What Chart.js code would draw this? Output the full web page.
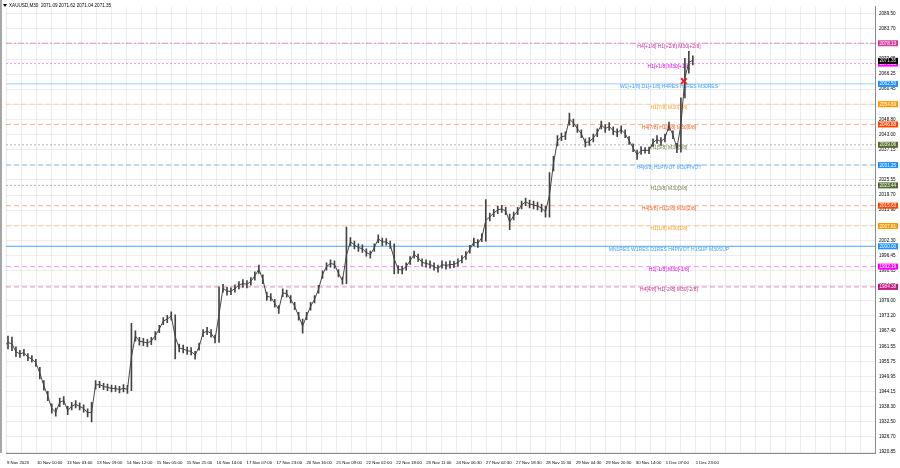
<!DOCTYPE html>
<html>
<head>
<meta charset="utf-8">
<script src="https://cdn.jsdelivr.net/npm/chart.js@4.4.0/dist/chart.umd.min.js"></script>
<style>
html, body { margin: 0; padding: 0; background: #fff; }
#wrap { width: 900px; height: 468px; position: relative; }
</style>
</head>
<body>
<div id="wrap"><canvas id="chart"></canvas></div>
<script>
// XAUUSD M30, one sample every ~4 bars, low / high
const lows = [1958.9,1960.5,1959.8,1957.5,1957.2,1957.8,1956.0,1955.4,1953.8,1949.0,
  1944.6,1940.6,1935.8,1934.6,1938.3,1939.2,1935.2,1937.0,1937.8,1937.0,
  1936.2,1934.4,1932.4,1945.0,1945.6,1944.8,1944.5,1944.0,1944.2,1943.6,
  1944.0,1943.4,1944.5,1963.5,1962.0,1961.8,1961.4,1962.2,1964.0,1966.8,
  1969.8,1970.6,1971.6,1956.7,1959.4,1959.0,1958.4,1958.2,1956.6,1960.0,
  1965.2,1966.0,1965.0,1962.8,1963.0,1982.4,1981.2,1981.4,1982.4,1983.6,
  1984.2,1984.0,1985.0,1987.0,1989.6,1985.6,1979.2,1979.0,1976.6,1974.2,
  1980.6,1980.4,1978.2,1975.6,1971.6,1966.6,1971.8,1975.4,1978.2,1982.0,
  1987.6,1990.8,1992.0,1991.6,1988.2,1985.4,1985.6,2000.2,1999.0,1998.0,
  1997.6,1996.2,1995.4,1998.0,2001.4,2000.2,2000.4,1999.2,1989.4,1989.6,
  1989.4,1990.8,1993.0,1995.4,1994.2,1992.4,1992.0,1991.6,1990.8,1990.0,
  1991.6,1991.2,1991.6,1991.8,1992.4,1993.6,1995.0,1997.4,2000.2,1999.6,
  2001.8,2002.0,2009.8,2011.4,2012.6,2013.0,2012.2,2006.4,2010.2,2012.2,
  2014.4,2015.6,2014.8,2014.4,2014.0,2013.2,2011.2,2011.2,2029.0,2038.6,
  2040.6,2041.0,2046.6,2046.0,2043.8,2041.8,2038.2,2038.8,2040.2,2042.2,
  2045.2,2043.8,2044.6,2043.0,2042.2,2043.4,2041.8,2039.2,2036.4,2033.4,
  2035.4,2035.8,2035.6,2038.4,2039.6,2038.8,2040.2,2044.6,2041.4,2036.0,
  2036.2,2057.1,2066.6,2069.8];
const highs = [1964.3,1965.5,1965.1,1961.3,1960.0,1960.4,1958.7,1958.0,1956.5,1953.4,
  1948.3,1944.2,1939.4,1937.8,1941.6,1942.2,1938.4,1940.0,1940.6,1939.8,
  1939.0,1937.5,1940.0,1948.3,1948.0,1947.3,1947.0,1946.6,1946.4,1946.1,
  1946.8,1946.5,1970.4,1967.5,1965.0,1964.6,1964.2,1965.0,1967.2,1969.6,
  1972.6,1973.4,1974.8,1973.6,1962.4,1962.0,1961.2,1961.0,1959.6,1962.8,
  1968.0,1968.8,1968.0,1965.8,1984.4,1985.4,1984.2,1984.0,1985.2,1986.4,
  1987.2,1986.8,1988.0,1990.2,1992.8,1989.0,1982.4,1981.8,1979.6,1977.2,
  1983.6,1983.2,1981.0,1978.4,1974.6,1972.0,1974.6,1978.4,1981.0,1985.0,
  1990.6,1993.6,1994.8,1994.4,1991.0,1988.2,2007.4,2003.4,2002.0,2001.0,
  2000.6,1999.0,1998.2,2001.0,2004.4,2003.2,2003.0,2002.0,2001.0,1992.6,
  1992.4,1993.6,1996.0,1998.2,1997.0,1995.2,1994.8,1994.4,1993.6,1992.8,
  1994.4,1994.0,1994.4,1994.2,1995.2,1996.4,1998.0,2000.4,2003.2,2002.6,
  2004.8,2018.0,2012.8,2014.2,2015.4,2015.8,2015.0,2012.4,2013.2,2015.0,
  2017.4,2018.6,2017.8,2017.4,2017.0,2016.2,2015.4,2028.4,2034.6,2042.6,
  2043.6,2044.0,2051.3,2049.0,2046.8,2044.8,2041.4,2041.8,2043.2,2045.2,
  2048.2,2046.8,2047.6,2046.0,2045.2,2046.4,2044.8,2042.2,2039.4,2037.0,
  2038.4,2038.0,2038.2,2041.4,2042.6,2041.8,2043.2,2047.8,2044.4,2039.6,
  2057.1,2072.3,2075.0,2073.3];

const lastQuote = [2071.09, 2071.62, 2071.04, 2071.35];

const levelPrices = [2078.13, 2070.31, 2062.50, 2054.69, 2046.88, 2039.06, 2031.25,
  2023.44, 2015.63, 2007.81, 2000.00, 1992.19, 1984.38];
const levelNames = ['H4[+1/8] H1[+2/8] M30[+2/8]', 'H1[+1/8] M30[+1/8]',
  'W1[+1/8] D1[+1/8] H4RES H1RES M30RES', 'H1[7/8] M30[7/8]', 'H4[7/8] H1[6/8] M30[6/8]',
  'H1[5/8] M30[5/8]', 'H4[6/8] H1PIVOT M30PIVOT', 'H1[3/8] M30[3/8]',
  'H4[5/8] H1[2/8] M30[2/8]', 'H1[1/8] M30[1/8]', 'MN1RES W1RES D1RES H4PIVOT H1SUP M30SUP',
  'H1[-1/8] M30[-1/8]', 'H4[4/8] H1[-2/8] M30[-2/8]'];

const signalIndex = 170.75;
const signalPrice = 2063.6;

const yTicks = [2089.50, 2083.70, 2077.85, 2072.05, 2066.25, 2060.45, 2054.60, 2048.80,
  2043.00, 2037.15, 2031.35, 2025.55, 2019.70, 2013.90, 2008.10, 2002.30, 1996.45,
  1990.65, 1984.85, 1979.00, 1973.20, 1967.40, 1961.55, 1955.75, 1949.95, 1944.15,
  1938.30, 1932.50, 1926.70, 1920.85];
const xLabels = ['9 Nov 2023', '10 Nov 10:00', '13 Nov 03:00', '13 Nov 19:00', '14 Nov 12:00',
  '15 Nov 05:00', '15 Nov 21:00', '16 Nov 14:00', '17 Nov 07:00', '17 Nov 23:00',
  '20 Nov 16:00', '21 Nov 09:00', '22 Nov 02:00', '22 Nov 18:00', '23 Nov 11:00',
  '24 Nov 06:30', '27 Nov 02:30', '27 Nov 18:30', '28 Nov 11:30', '29 Nov 04:30',
  '29 Nov 20:30', '30 Nov 14:00', '1 Dec 07:00', '1 Dec 23:00'];

// styles
const lineColors = ['rgba(214,70,170,0.6)', 'rgba(255,0,255,0.45)', 'rgba(30,144,255,0.45)',
  'rgba(255,153,0,0.35)', 'rgba(255,69,0,0.45)', 'rgba(85,107,47,0.45)', 'rgba(30,144,255,0.5)',
  'rgba(85,107,47,0.45)', 'rgba(255,69,0,0.45)', 'rgba(255,153,0,0.4)', 'rgba(30,144,255,0.8)',
  'rgba(255,0,255,0.45)', 'rgba(214,40,140,0.55)'];
const lineDashes = [[6, 2, 2, 2], [2, 2], [], [5, 3], [5, 3], [2, 2], [5, 3], [2, 2], [5, 3],
  [5, 3], [], [5, 3], [5, 3]];
const textColors = ['#cc2f9a', '#ee00ee', '#3d9bff', '#ff9a1a', '#ff5a1a', '#6b7f45', '#3d9bff',
  '#6b7f45', '#ff5a1a', '#ff9a1a', '#3d9bff', '#ee00ee', '#cc2f8a'];
const boxColors = ['#d63fa0', '#ff00ff', '#1e90ff', '#ff9900', '#ff4500', '#556b2f', '#1e90ff',
  '#556b2f', '#ff4500', '#ff9900', '#1e90ff', '#ff00ff', '#c71585'];

const FONT = 'Liberation Sans';
const X_MIN = 0.5, X_MAX = 218.75;
const LABEL_AT = 167;

const bars = lows.map((lo, i) => ({ x: i, y: [lo, highs[i]] }));
const mids = lows.map((lo, i) => ({ x: i, y: (lo + highs[i]) / 2 }));

const levelSets = levelPrices.map((p, i) => ({
  type: 'line',
  data: [{ x: X_MIN, y: p }, { x: X_MAX, y: p }],
  borderColor: lineColors[i],
  borderDash: lineDashes[i],
  borderWidth: 1,
  pointRadius: 0,
  order: 5
}));

const overlay = {
  id: 'overlay',
  beforeDatasetsDraw(chart) {
    const { ctx, scales: { x, y } } = chart;
    ctx.save();
    ctx.font = '5px "' + FONT + '"';
    ctx.textAlign = 'center';
    ctx.textBaseline = 'middle';
    levelPrices.forEach((p, i) => {
      ctx.fillStyle = textColors[i];
      ctx.fillText(levelNames[i], x.getPixelForValue(LABEL_AT), y.getPixelForValue(p) + 3);
    });
    ctx.restore();
  },
  afterDraw(chart) {
    const { ctx, chartArea: a, scales: { y } } = chart;
    ctx.save();
    // frame
    ctx.strokeStyle = '#8a8a8a';
    ctx.lineWidth = 1.5;
    ctx.beginPath();
    ctx.moveTo(1, 0);
    ctx.lineTo(1, a.bottom);
    ctx.stroke();
    // price boxes
    ctx.font = '4.6px "' + FONT + '"';
    ctx.textAlign = 'left';
    ctx.textBaseline = 'middle';
    const box = (v, col) => {
      const py = y.getPixelForValue(v);
      ctx.fillStyle = col;
      ctx.fillRect(a.right + 3, py - 3, 20, 6);
      ctx.fillStyle = '#fff';
      ctx.fillText(v.toFixed(2), a.right + 4.5, py + 0.3);
    };
    levelPrices.forEach((p, i) => box(p, boxColors[i]));
    box(lastQuote[3], '#000');
    // title
    ctx.fillStyle = '#000';
    ctx.beginPath();
    ctx.moveTo(3, 4); ctx.lineTo(7, 4); ctx.lineTo(5, 7); ctx.closePath();
    ctx.fill();
    ctx.font = '4.6px "' + FONT + '"';
    ctx.textBaseline = 'middle';
    ctx.fillText('XAUUSD,M30  ' + lastQuote.map(v => v.toFixed(2)).join(' '), 9, 6);
    ctx.restore();
  }
};

const ctx = document.getElementById('chart').getContext('2d');
const myChart = new Chart(ctx, {
  type: 'bar',
  data: {
    datasets: [
      {
        type: 'bar',
        data: bars,
        backgroundColor: '#444',
        barThickness: 1,
        order: 1
      },
      {
        type: 'line',
        data: mids,
        borderColor: '#333',
        borderWidth: 0.9,
        pointRadius: 0,
        order: 2
      },
      {
        type: 'scatter',
        data: [{ x: signalIndex, y: signalPrice }],
        pointStyle: 'crossRot',
        pointRadius: 4,
        borderColor: '#ee1c1c',
        borderWidth: 2,
        order: 0
      },
      ...levelSets
    ]
  },
  options: {
    responsive: true,
    maintainAspectRatio: false,
    animation: false,
    events: [],
    layout: { padding: { left: 2, top: 3, right: 0, bottom: 0 } },
    plugins: { legend: { display: false }, tooltip: { enabled: false } },
    scales: {
      x: {
        type: 'linear',
        offset: false,
        min: X_MIN,
        max: X_MAX,
        afterBuildTicks: s => {
          s.ticks = [];
          for (let k = 0; k < 58; k++) s.ticks.push({ value: 0.75 + k * 3.76 });
        },
        afterFit: s => { s.height = 15; s.paddingLeft = 0; s.paddingRight = 0; },
        ticks: {
          autoSkip: false,
          maxRotation: 0,
          align: 'start',
          padding: 7,
          color: '#000',
          font: { family: FONT, size: 4.3 },
          callback: (v, i) => (i % 2 === 0 ? (xLabels[i / 2] || '') : '')
        },
        grid: { color: 'rgba(0,0,0,0.07)', drawTicks: false, offset: false },
        border: { color: '#8a8a8a' }
      },
      y: {
        position: 'right',
        min: 1920.47,
        max: 2092.17,
        afterBuildTicks: s => { s.ticks = yTicks.map(v => ({ value: v })); },
        afterFit: s => { s.width = 25; },
        ticks: {
          padding: 4,
          color: '#000',
          font: { family: FONT, size: 4.6 },
          callback: v => v.toFixed(2)
        },
        grid: { color: 'rgba(0,0,0,0.07)', drawTicks: false },
        border: { color: '#8a8a8a' }
      }
    }
  },
  plugins: [overlay]
});
</script>
</body>
</html>
